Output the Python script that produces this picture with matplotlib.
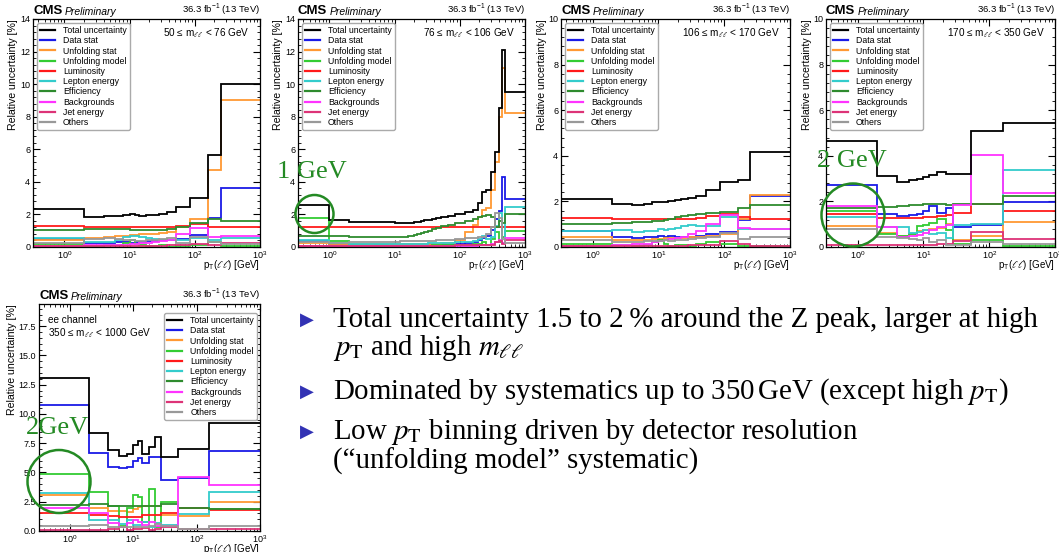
import math
import matplotlib
matplotlib.use("Agg")
import matplotlib.pyplot as plt
from matplotlib.lines import Line2D
from matplotlib.patches import Circle
from matplotlib.ticker import MultipleLocator, LogLocator, FuncFormatter

plt.rcParams['font.family'] = ['Liberation Sans', 'DejaVu Sans']
plt.rcParams['mathtext.fontset'] = 'stix'

# Fuentes de incertidumbre y colores
sources = ["Total uncertainty", "Data stat", "Unfolding stat", "Unfolding model",
           "Luminosity", "Lepton energy", "Efficiency", "Backgrounds",
           "Jet energy", "Others"]
colors = ['#000000', '#1a1ae6', '#ff9933', '#33cc33', '#ff1a1a',
          '#33cccc', '#2e8b2e', '#ff33ff', '#dd3377', '#999999']

# 50 <= m < 76 GeV
edges_50_76 = [0.33, 2, 4, 6, 8, 10, 12, 14, 18, 22, 28, 37, 52, 85, 160, 250, 1000]
total_50_76 = [2.31, 1.86, 1.88, 1.92, 1.97, 2.03, 1.95, 1.93, 1.97, 1.99, 2.03, 2.17, 2.47, 3.03, 5.65, 10.0]
stat_50_76 = [0.47, 0.25, 0.27, 0.28, 0.30, 0.24, 0.30, 0.32, 0.34, 0.36, 0.40, 0.45, 0.50, 0.74, 1.80, 3.65]
unfstat_50_76 = [0.45, 0.57, 0.60, 0.65, 0.70, 0.72, 0.75, 0.78, 0.80, 0.82, 0.85, 0.95, 1.20, 1.75, 4.75, 9.05]
unfmodel_50_76 = [0.17, 0.05, 0.10, 0.15, 0.25, 0.45, 0.20, 0.10, 0.05, 0.08, 0.12, 0.03, 0.05, 0.10, 0.30, 0.05]
lumi_50_76 = [1.29, 1.21, 1.21, 1.21, 1.21, 1.21, 1.21, 1.21, 1.21, 1.21, 1.21, 1.25, 1.30, 1.40, 1.25, 1.22]
lepton_50_76 = [0.53, 0.30, 0.30, 0.40, 0.60, 0.70, 0.65, 0.60, 0.55, 0.50, 0.45, 0.40, 0.40, 0.55, 0.40, 0.55]
eff_50_76 = [1.04, 1.08, 1.10, 1.10, 1.08, 1.06, 1.05, 1.04, 1.04, 1.04, 1.06, 1.10, 1.25, 1.45, 1.75, 1.58]
bkg_50_76 = [0.05, 0.10, 0.12, 0.12, 0.15, 0.18, 0.20, 0.22, 0.25, 0.30, 0.35, 0.45, 0.80, 1.15, 0.60, 0.70]
jet_50_76 = [0.06, 0.05, 0.05, 0.05, 0.05, 0.05, 0.05, 0.05, 0.05, 0.05, 0.08, 0.10, 0.15, 0.20, 0.15, 0.25]
others_50_76 = [0.27, 0.50, 0.55, 0.50, 0.45, 0.40, 0.35, 0.35, 0.40, 0.45, 0.50, 0.55, 0.25, 0.60, 0.30, 0.20]

# 76 <= m < 106 GeV
edges_76_106 = [0.33, 1, 2, 3, 4, 5, 6, 7, 8, 9, 10, 11, 12, 13, 14, 16, 18, 20, 22, 25, 28,
                32, 37, 43, 52, 65, 85, 120, 160, 190, 220, 250, 300, 350, 400, 450, 500, 1000]
total_76_106 = [2.55, 1.66, 1.56, 1.55, 1.54, 1.53, 1.53, 1.52, 1.52, 1.51, 1.50, 1.50, 1.49,
                1.48, 1.47, 1.48, 1.50, 1.53, 1.56, 1.60, 1.64, 1.68, 1.73, 1.78, 1.85, 1.93,
                2.02, 2.15, 2.30, 2.70, 3.40, 3.50, 4.60, 5.85, 8.55, 12.1, 9.5]
stat_76_106 = [0.38, 0.15, 0.12, 0.12, 0.11, 0.11, 0.11, 0.11, 0.11, 0.11, 0.12, 0.12, 0.12,
               0.12, 0.12, 0.12, 0.12, 0.13, 0.13, 0.13, 0.14, 0.14, 0.15, 0.15, 0.16, 0.18,
               0.20, 0.25, 0.30, 0.40, 0.55, 0.70, 1.05, 1.70, 2.20, 4.30, 2.95]
unfstat_76_106 = [0.25, 0.20, 0.18, 0.17, 0.17, 0.17, 0.16, 0.16, 0.16, 0.16, 0.16, 0.16, 0.16,
                  0.16, 0.16, 0.17, 0.17, 0.17, 0.18, 0.18, 0.19, 0.19, 0.20, 0.20, 0.22, 0.25,
                  0.40, 0.90, 1.35, 1.86, 2.27, 2.40, 3.50, 5.20, 8.00, 11.0, 8.2]
unfmodel_76_106 = [1.80, 0.35, 0.12, 0.10, 0.08, 0.10, 0.12, 0.10, 0.08, 0.06, 0.05, 0.06, 0.08,
                   0.07, 0.06, 0.05, 0.05, 0.06, 0.07, 0.08, 0.08, 0.09, 0.10, 0.10, 0.12, 0.12,
                   0.15, 0.15, 0.18, 0.20, 0.30, 0.15, 0.50, 0.90, 0.30, 0.60, 1.00]
lumi_76_106 = [1.20] * 37
lepton_76_106 = [0.45, 0.22, 0.20, 0.20, 0.19, 0.19, 0.18, 0.18, 0.18, 0.18, 0.18, 0.18, 0.18,
                 0.18, 0.18, 0.18, 0.19, 0.19, 0.20, 0.20, 0.21, 0.22, 0.22, 0.23, 0.25, 0.26,
                 0.28, 0.30, 0.35, 0.50, 0.70, 0.50, 0.60, 1.30, 2.10, 0.25, 2.45]
eff_76_106 = [0.70, 0.68, 0.62, 0.60, 0.60, 0.60, 0.60, 0.60, 0.60, 0.60, 0.60, 0.60, 0.61,
              0.62, 0.64, 0.67, 0.70, 0.74, 0.80, 0.86, 0.93, 1.00, 1.08, 1.16, 1.26, 1.36,
              1.48, 1.60, 1.72, 1.82, 1.90, 1.95, 1.85, 1.20, 1.60, 1.50, 2.05]
bkg_76_106 = [0.05, 0.05, 0.05, 0.05, 0.05, 0.05, 0.05, 0.05, 0.05, 0.05, 0.05, 0.05, 0.05,
              0.05, 0.05, 0.05, 0.05, 0.05, 0.05, 0.05, 0.05, 0.05, 0.06, 0.06, 0.06, 0.07,
              0.07, 0.08, 0.09, 0.10, 0.10, 0.15, 0.20, 0.30, 0.45, 0.25, 0.55]
jet_76_106 = [0.08, 0.08, 0.08, 0.08, 0.08, 0.08, 0.08, 0.08, 0.08, 0.08, 0.08, 0.08, 0.08,
              0.08, 0.08, 0.08, 0.08, 0.08, 0.08, 0.08, 0.08, 0.08, 0.08, 0.09, 0.09, 0.09,
              0.10, 0.10, 0.10, 0.11, 0.12, 0.12, 0.15, 0.30, 0.35, 0.20, 0.45]
others_76_106 = [0.30, 0.25, 0.28, 0.30, 0.30, 0.31, 0.31, 0.32, 0.32, 0.33, 0.33, 0.33, 0.34,
                 0.34, 0.35, 0.35, 0.36, 0.36, 0.37, 0.37, 0.38, 0.38, 0.39, 0.40, 0.40, 0.45,
                 0.50, 0.55, 0.55, 0.60, 0.60, 0.80, 1.20, 2.10, 1.80, 0.50, 0.25]

# 106 <= m < 170 GeV
edges_106_170 = [0.33, 2, 4, 6, 8, 10, 12, 14, 18, 22, 28, 37, 52, 85, 160, 250, 1000]
total_106_170 = [2.12, 1.89, 1.84, 1.88, 1.96, 1.97, 1.98, 2.00, 2.08, 2.10, 2.15, 2.24, 2.48, 2.84, 2.96, 4.18]
stat_106_170 = [0.72, 0.42, 0.40, 0.42, 0.45, 0.50, 0.42, 0.50, 0.45, 0.45, 0.45, 0.50, 0.55, 0.65, 1.20, 2.22]
unfstat_106_170 = [0.45, 0.30, 0.30, 0.32, 0.35, 0.35, 0.38, 0.38, 0.40, 0.40, 0.45, 0.45, 0.50, 0.55, 1.25, 2.28]
unfmodel_106_170 = [0.15, 0.10, 0.05, 0.10, 0.20, 0.30, 0.15, 0.05, 0.08, 0.10, 0.05, 0.15, 0.20, 0.12, 0.05, 0.05]
lumi_106_170 = [1.28, 1.21, 1.21, 1.21, 1.21, 1.21, 1.21, 1.21, 1.21, 1.22, 1.25, 1.28, 1.35, 1.45, 1.30, 1.25]
lepton_106_170 = [0.72, 0.76, 0.64, 0.68, 0.72, 0.80, 0.75, 0.78, 0.85, 0.90, 0.95, 0.92, 0.90, 1.30, 0.80, 0.78]
eff_106_170 = [1.00, 1.05, 1.08, 1.10, 1.12, 1.15, 1.20, 1.25, 1.30, 1.35, 1.40, 1.45, 1.50, 1.55, 1.72, 1.85]
bkg_106_170 = [0.05, 0.10, 0.12, 0.15, 0.20, 0.25, 0.30, 0.35, 0.40, 0.45, 0.55, 0.70, 1.00, 1.40, 0.85, 0.80]
jet_106_170 = [0.03, 0.03, 0.03, 0.03, 0.03, 0.05, 0.05, 0.05, 0.05, 0.06, 0.08, 0.08, 0.10, 0.25, 0.15, 0.05]
others_106_170 = [0.32, 0.20, 0.22, 0.25, 0.25, 0.28, 0.30, 0.28, 0.30, 0.32, 0.35, 0.40, 0.45, 0.60, 0.35, 0.45]

# 170 <= m < 350 GeV
edges_170_350 = [0.33, 2, 4, 6, 8, 10, 12, 16, 22, 28, 52, 160, 1000]
total_170_350 = [4.66, 3.13, 2.87, 2.94, 3.00, 3.08, 3.15, 3.30, 3.22, 3.22, 5.10, 5.45]
stat_170_350 = [2.72, 1.45, 1.37, 1.40, 1.46, 1.60, 1.82, 1.50, 1.70, 0.89, 0.98, 1.99]
unfstat_170_350 = [0.90, 0.60, 0.50, 0.55, 0.70, 0.75, 0.80, 0.85, 1.00, 0.30, 0.50, 1.10]
unfmodel_170_350 = [1.60, 0.55, 0.50, 0.55, 0.90, 0.97, 1.05, 1.25, 0.75, 0.12, 0.30, 0.05]
lumi_170_350 = [1.45, 1.26, 1.26, 1.27, 1.28, 1.30, 1.30, 1.35, 1.40, 1.50, 1.88, 1.58]
lepton_170_350 = [1.33, 0.89, 0.86, 0.60, 0.65, 0.75, 0.55, 0.60, 0.38, 0.95, 1.03, 3.39]
eff_170_350 = [1.70, 1.74, 1.80, 1.84, 1.84, 1.88, 1.88, 1.90, 1.85, 1.88, 1.88, 2.23]
bkg_170_350 = [1.81, 0.86, 0.45, 0.47, 0.52, 0.60, 0.76, 0.86, 0.95, 1.84, 4.03, 2.35]
jet_170_350 = [0.07, 0.07, 0.07, 0.08, 0.08, 0.10, 0.10, 0.12, 0.15, 0.25, 0.65, 0.35]
others_170_350 = [0.78, 0.45, 0.40, 0.35, 0.30, 0.40, 0.20, 0.30, 0.10, 0.10, 0.20, 0.15]

# 350 <= m < 1000 GeV (ee)
edges_350_1000 = [0.33, 2, 4, 6, 8, 10, 12, 14, 18, 22, 28, 52, 160, 1000]
total_350_1000 = [13.05, 8.35, 6.9, 6.4, 6.6, 7.35, 7.65, 6.6, 7.2, 8.05, 6.35, 7.0, 9.25]
stat_350_1000 = [10.8, 6.7, 5.45, 5.35, 5.5, 6.0, 6.2, 5.85, 6.3, 6.3, 4.35, 4.5, 6.85]
unfstat_350_1000 = [3.1, 2.0, 1.7, 1.7, 1.65, 1.85, 2.05, 2.1, 2.1, 2.1, 1.4, 1.25, 2.5]
unfmodel_350_1000 = [4.85, 3.35, 2.15, 0.4, 1.95, 3.1, 2.9, 0.8, 3.55, 0.35, 2.5, 2.0, 1.85]
lumi_350_1000 = [1.55, 1.4, 1.25, 1.2, 1.2, 1.2, 1.2, 1.4, 1.4, 1.4, 1.5, 1.95, 1.8]
lepton_350_1000 = [3.25, 0.95, 0.9, 0.6, 0.9, 0.55, 0.5, 0.8, 0.35, 0.7, 0.5, 1.45, 3.35]
eff_350_1000 = [2.2, 2.3, 2.15, 2.15, 2.15, 2.15, 2.15, 2.15, 2.15, 2.15, 2.3, 1.95, 1.85]
bkg_350_1000 = [2.0, 1.5, 0.7, 0.35, 0.7, 0.95, 0.8, 0.5, 0.8, 0.4, 0.4, 4.6, 3.95]
jet_350_1000 = [0.05, 0.1, 0.2, 0.3, 0.1, 0.2, 0.15, 0.25, 0.1, 0.2, 0.3, 0.2, 0.15]
others_350_1000 = [0.45, 0.5, 0.3, 0.3, 0.35, 0.3, 0.3, 0.3, 0.45, 0.6, 0.45, 0.15, 0.45]

bullets = [
    "Total uncertainty 1.5 to 2\u2009% around the Z peak, larger at high",
    r"$p_\mathrm{T}$ and high $m_{\ell\ell}$",
    r"Dominated by systematics up to 350$\,$GeV (except high $p_\mathrm{T}$)",
    r"Low $p_\mathrm{T}$ binning driven by detector resolution",
    "(\u201cunfolding model\u201d systematic)",
]

W, H = 1059, 552
fig = plt.figure(figsize=(W / 100, H / 100), dpi=100)

panels = [
    dict(box=(33, 19, 260, 247), edges=edges_50_76, ymax=14, ystep=2, ylab=20, xlab=11,
         series=[total_50_76, stat_50_76, unfstat_50_76, unfmodel_50_76, lumi_50_76,
                 lepton_50_76, eff_50_76, bkg_50_76, jet_50_76, others_50_76],
         mass="50 \u2264 m$_{\\ell\\ell}$ < 76 GeV"),
    dict(box=(298, 19, 525, 247), edges=edges_76_106, ymax=14, ystep=2, ylab=20, xlab=11,
         series=[total_76_106, stat_76_106, unfstat_76_106, unfmodel_76_106, lumi_76_106,
                 lepton_76_106, eff_76_106, bkg_76_106, jet_76_106, others_76_106],
         mass="76 \u2264 m$_{\\ell\\ell}$ < 106 GeV"),
    dict(box=(561, 19, 790, 247), edges=edges_106_170, ymax=10, ystep=2, ylab=19, xlab=11,
         series=[total_106_170, stat_106_170, unfstat_106_170, unfmodel_106_170, lumi_106_170,
                 lepton_106_170, eff_106_170, bkg_106_170, jet_106_170, others_106_170],
         mass="106 \u2264 m$_{\\ell\\ell}$ < 170 GeV"),
    dict(box=(826, 19, 1055, 247), edges=edges_170_350, ymax=10, ystep=2, ylab=19, xlab=11,
         series=[total_170_350, stat_170_350, unfstat_170_350, unfmodel_170_350, lumi_170_350,
                 lepton_170_350, eff_170_350, bkg_170_350, jet_170_350, others_170_350],
         mass="170 \u2264 m$_{\\ell\\ell}$ < 350 GeV"),
    dict(box=(39, 304, 260, 531), edges=edges_350_1000, ymax=19.4, ystep=2.5, ylab=27, xlab=10.5,
         series=[total_350_1000, stat_350_1000, unfstat_350_1000, unfmodel_350_1000, lumi_350_1000,
                 lepton_350_1000, eff_350_1000, bkg_350_1000, jet_350_1000, others_350_1000],
         mass=None),
]

handles = [Line2D([], [], color=c, lw=1.6) for c in colors]
leg_kw = dict(borderaxespad=0, fontsize=6.3, labelspacing=0.14, handlelength=1.7,
              handletextpad=0.9, borderpad=0.35, framealpha=1, edgecolor='#aaaaaa')
decade_fmt = FuncFormatter(lambda v, pos: r'$\mathregular{10^{%d}}$' % round(math.log10(v)))

for p in panels:
    x0, y0, x1, y1 = p['box']
    ax = fig.add_axes([x0 / W, 1 - y1 / H, (x1 - x0) / W, (y1 - y0) / H])
    wpx, hpx = x1 - x0, y1 - y0
    for i, (vals, col) in enumerate(zip(p['series'], colors)):
        ax.stairs(vals, p['edges'], baseline=None, color=col, lw=1.3,
                  zorder=3 if i == 0 else 2)
    ax.set_xscale('log')
    ax.set_xlim(0.33, 1000)
    ax.set_ylim(0, p['ymax'])
    ax.xaxis.set_major_locator(LogLocator(base=10, numticks=10))
    ax.xaxis.set_major_formatter(decade_fmt)
    ax.yaxis.set_major_locator(MultipleLocator(p['ystep']))
    ax.yaxis.set_minor_locator(MultipleLocator(p['ystep'] / 5))
    if p['ystep'] == 2.5:
        ax.yaxis.set_major_formatter(plt.FormatStrFormatter('%.1f'))
    ax.tick_params(which='both', direction='in', top=True, right=True, labelsize=6.5, pad=2)
    ax.tick_params(which='major', length=5, width=0.8)
    ax.tick_params(which='minor', length=2.5, width=0.6)
    for s in ax.spines.values():
        s.set_linewidth(0.9)

    ax.text(-p['ylab'] / wpx, 1.0, "Relative uncertainty [%]", rotation=90, ha='center',
            va='top', fontsize=7.6, transform=ax.transAxes)
    ax.text(1.0, -p['xlab'] / hpx, r"p$_{\mathregular{T}}$($\ell\ell$) [GeV]", ha='right',
            va='top', fontsize=7.0, transform=ax.transAxes)
    ax.text(0.0, 1 + 2 / hpx, "CMS", fontweight='bold', fontsize=9.5, ha='left', va='bottom',
            transform=ax.transAxes)
    ax.text(32 / wpx, 1 + 2 / hpx, "Preliminary", style='italic', fontsize=7.5, ha='left',
            va='bottom', transform=ax.transAxes)
    ax.text(1.0, 1 + 2 / hpx, r"36.3 fb$^{\mathregular{-1}}$ (13 TeV)", fontsize=6.8,
            ha='right', va='bottom', transform=ax.transAxes)

    if p['mass'] is not None:
        ax.text(1 - 10 / wpx, 1 - 14 / hpx, p['mass'], ha='right', va='center', fontsize=7.2,
                transform=ax.transAxes)
        ax.legend(handles, sources, loc='upper left', bbox_to_anchor=(4 / wpx, 1 - 4 / hpx),
                  **leg_kw)
    else:
        ax.text(9 / wpx, 1 - 16 / hpx, "ee channel", ha='left', va='center', fontsize=7.2,
                transform=ax.transAxes)
        ax.text(9 / wpx, 1 - 29 / hpx, "350 \u2264 m$_{\\ell\\ell}$ < 1000 GeV", ha='left',
                va='center', fontsize=7.2, transform=ax.transAxes)
        ax.legend(handles, sources, loc='upper right', bbox_to_anchor=(1 - 3 / wpx, 1 - 9 / hpx),
                  **leg_kw)

# anotaciones verdes
green = '#248a24'
serif = ['Liberation Serif', 'DejaVu Serif']
for txt, tx, ty, cx, cy, r in [("1 GeV", 312, 172, 314.5, 214, 19),
                               ("2 GeV", 852, 161, 853, 215, 31.5),
                               ("2GeV", 57, 428, 59, 481.5, 31.5)]:
    fig.text(tx / W, 1 - ty / H, txt, ha='center', va='center', color=green, fontsize=19,
             family=serif)
    fig.add_artist(Circle((cx / 100, (H - cy) / 100), r / 100, transform=fig.dpi_scale_trans,
                          fill=False, ec=green, lw=1.8))

# texto de la diapositiva
for txt, y, mark in zip(bullets, [320, 348, 392, 432, 461], [True, False, True, True, False]):
    if mark:
        fig.text(300 / W, 1 - y / H, '\u25b6', family='DejaVu Sans', fontsize=13,
                 color='#3232b4', ha='left', va='center')
    fig.text(333 / W, 1 - y / H, txt, family=serif, fontsize=20.8, ha='left', va='center')

fig.savefig("out.png", dpi=100)
